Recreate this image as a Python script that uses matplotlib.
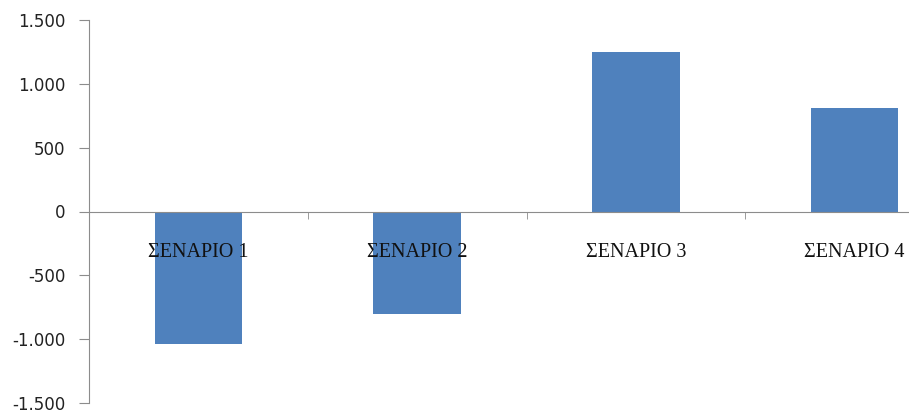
import matplotlib
matplotlib.use("Agg")
import matplotlib.pyplot as plt
from matplotlib.ticker import FuncFormatter, FixedLocator

scenarios = ["ΣΕΝΑΡΙΟ 1", "ΣΕΝΑΡΙΟ 2", "ΣΕΝΑΡΙΟ 3", "ΣΕΝΑΡΙΟ 4"]
values = [-1035, -800, 1248, 808]

W, H = 909, 412
fig = plt.figure(figsize=(W/100, H/100), dpi=100)
# plot area runs past the right edge, as in the reference (cropped)
ax = fig.add_axes([89/W, (H-403)/H, (964-89)/W, (403-20)/H])

x = list(range(len(scenarios)))
ax.bar(x, values, width=0.4, color="#4F81BD", zorder=1)
ax.set_axisbelow(False)

ax.set_xlim(-0.5, 3.5)
ax.set_ylim(-1500, 1500)
ax.set_yticks([-1500, -1000, -500, 0, 500, 1000, 1500])
ax.yaxis.set_major_formatter(FuncFormatter(lambda v, p: f"{int(v):,}".replace(",", ".")))

axis_col = "#8c8c8c"
for s in ["top", "right"]:
    ax.spines[s].set_visible(False)
ax.spines["left"].set_color(axis_col)
ax.spines["bottom"].set_color(axis_col)
ax.spines["bottom"].set_position(("data", 0))

ax.tick_params(axis="y", direction="out", length=7, color=axis_col,
               labelsize=12, labelcolor="#222222", pad=10)
for lab in ax.get_yticklabels():
    lab.set_family("DejaVu Sans")

ax.set_xticks(x)
ax.set_xticklabels(scenarios, family="Liberation Serif", fontsize=14.5)
ax.tick_params(axis="x", which="major", length=0, pad=23, labelcolor="#111111")
ax.xaxis.set_minor_locator(FixedLocator([0.5, 1.5, 2.5]))
ax.tick_params(axis="x", which="minor", direction="out", length=5, color=axis_col)
ax.xaxis.set_zorder(5)

fig.savefig("out.png", dpi=100)
